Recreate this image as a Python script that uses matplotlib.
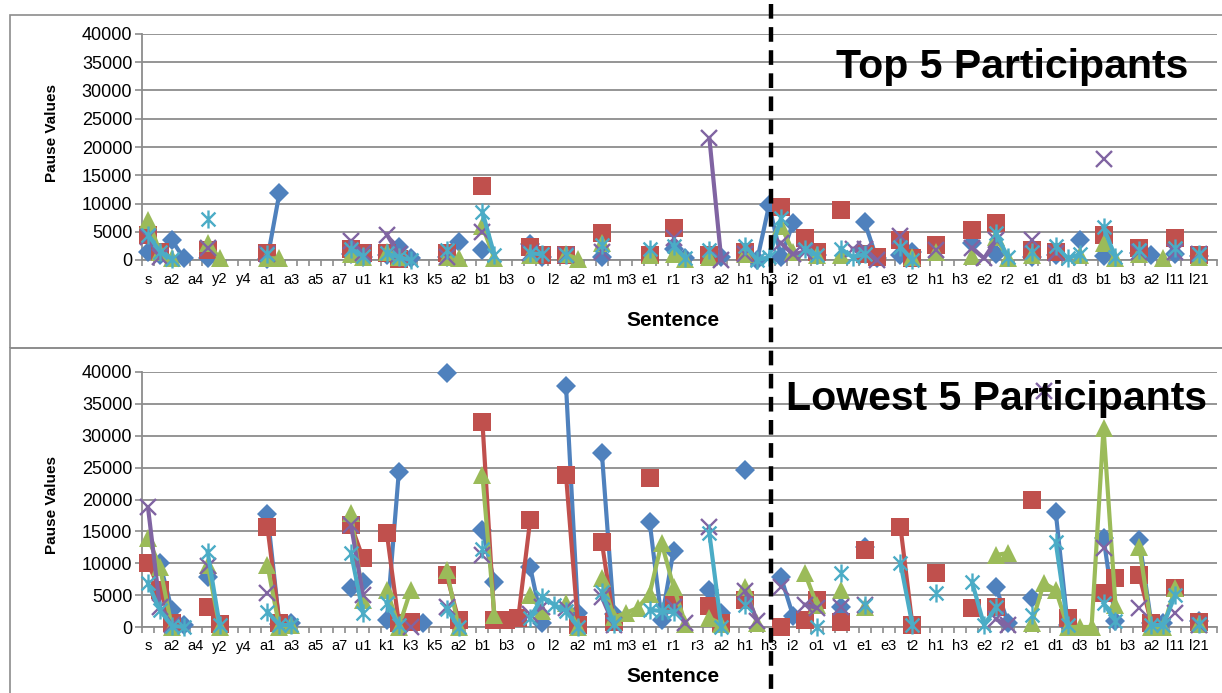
import numpy as np
import matplotlib
matplotlib.use('Agg')
import matplotlib.pyplot as plt
from matplotlib import font_manager
from matplotlib.path import Path
from matplotlib.lines import Line2D
from matplotlib.patches import Rectangle

n_cat = 90
labels = ['s', 'a2', 'a4', 'y2', 'y4', 'a1', 'a3', 'a5', 'a7', 'u1', 'k1', 'k3', 'k5',
          'a2', 'b1', 'b3', 'o', 'l2', 'a2', 'm1', 'm3', 'e1', 'r1', 'r3', 'a2', 'h1',
          'h3', 'i2', 'o1', 'v1', 'e1', 'e3', 't2', 'h1', 'h3', 'e2', 'r2', 'e1', 'd1',
          'd3', 'b1', 'b3', 'a2', 'l11', 'l21']
y_ticks = list(range(0, 40001, 5000))

# values, keyed by category index (missing = gap)
top_blue = {0: 1500, 1: 800, 2: 3500, 3: 300, 5: 300, 10: 200, 11: 11800, 17: 1000,
            18: 500, 20: 800, 21: 2300, 22: 300, 25: 500, 26: 3200, 28: 1800, 32: 2800,
            33: 500, 38: 500, 44: 2000, 45: 300, 48: 500, 51: 0, 52: 9700, 53: 500,
            54: 6500, 56: 800, 60: 6700, 61: 300, 63: 900, 64: 1500, 69: 3000, 71: 1000,
            74: 500, 76: 800, 78: 3500, 80: 700, 83: 1200, 84: 800, 86: 1000, 88: 700}
top_red = {0: 4400, 1: 1400, 5: 1800, 10: 1200, 17: 2000, 18: 1200, 20: 1200, 21: 200,
           25: 1200, 28: 13100, 32: 2300, 33: 900, 35: 900, 38: 4800, 42: 900, 44: 5600,
           47: 900, 50: 1400, 53: 9400, 55: 3900, 56: 1400, 58: 8800, 60: 1000, 61: 600,
           63: 3500, 64: 400, 66: 2700, 69: 5300, 71: 6500, 74: 1700, 76: 1400,
           80: 4400, 83: 2100, 86: 3900, 88: 900}
top_green = {0: 7000, 1: 1500, 2: 300, 5: 3000, 6: 300, 10: 300, 11: 300, 17: 1000,
             18: 500, 20: 1500, 21: 500, 25: 500, 26: 300, 28: 6000, 29: 300, 32: 800,
             35: 1000, 36: 200, 38: 3000, 42: 800, 44: 1000, 45: 100, 47: 500, 50: 1000,
             53: 6000, 54: 1500, 56: 800, 58: 800, 64: 500, 66: 1500, 69: 700, 71: 4000,
             72: 300, 74: 800, 78: 900, 80: 3000, 81: 400, 83: 1000, 85: 300, 88: 500}
top_purple = {0: 4000, 1: 500, 5: 2100, 10: 1000, 17: 3300, 18: 1200, 20: 4500, 21: 1000,
              25: 500, 28: 5000, 32: 1200, 35: 900, 38: 1500, 44: 3900, 47: 21600, 48: 0,
              50: 1000, 53: 3000, 54: 1000, 55: 1500, 59: 2000, 60: 2000, 61: 0,
              63: 4300, 66: 1800, 69: 2100, 70: 300, 71: 3500, 74: 3500, 76: 1200,
              80: 17900, 83: 1500, 86: 1500, 88: 1000}
top_cyan = {0: 4500, 1: 1500, 2: 200, 5: 7200, 10: 1000, 17: 2000, 18: 700, 20: 1200,
            21: 500, 22: 0, 25: 1800, 28: 8500, 29: 900, 32: 1200, 33: 1000, 35: 900,
            38: 2600, 42: 2000, 44: 2500, 45: 300, 47: 1800, 50: 2500, 51: 0, 52: 500,
            53: 7400, 55: 2000, 56: 800, 58: 2000, 59: 500, 60: 1000, 63: 2300, 64: 0,
            71: 4700, 72: 500, 74: 1500, 76: 2500, 77: 300, 78: 1000, 80: 5800, 81: 500,
            83: 1800, 86: 2200, 88: 1000}

low_blue = {1: 10000, 2: 2700, 3: 300, 5: 7800, 10: 17800, 11: 500, 12: 600, 17: 6100,
            18: 7000, 20: 1100, 21: 24300, 23: 600, 25: 39800, 28: 15200, 29: 7000,
            32: 9400, 33: 600, 35: 37800, 36: 2200, 38: 27300, 39: 2000, 42: 16500,
            43: 1100, 44: 12000, 47: 5800, 48: 2200, 50: 24600, 53: 7800, 54: 1800,
            58: 3100, 60: 12500, 71: 6300, 72: 600, 74: 4500, 76: 18000, 77: 300,
            80: 14000, 81: 1000, 83: 13600, 84: 600, 85: 600, 88: 1000}
low_red = {0: 10000, 1: 5800, 2: 600, 5: 3100, 6: 400, 10: 15700, 11: 700, 17: 16000,
           18: 10800, 20: 14700, 21: 600, 22: 800, 25: 8200, 26: 1100, 28: 32200,
           29: 1100, 30: 1100, 31: 1400, 32: 16800, 35: 23800, 36: 300, 38: 13300,
           39: 800, 42: 23300, 44: 3400, 47: 3300, 48: 600, 50: 4200, 53: 0, 55: 1100,
           56: 4200, 58: 800, 60: 12100, 63: 15700, 64: 300, 66: 8400, 69: 3000,
           71: 3100, 74: 20000, 77: 1400, 80: 5300, 81: 7700, 83: 8100, 84: 600,
           86: 6100, 88: 800}
low_green = {0: 14000, 1: 9400, 2: 0, 5: 9700, 6: 0, 10: 9700, 11: 0, 12: 300,
             17: 17900, 18: 4200, 20: 5800, 21: 0, 22: 5800, 25: 9000, 26: 0, 28: 23800,
             29: 1900, 32: 5000, 33: 2500, 35: 3700, 36: 0, 38: 7700, 39: 1500, 40: 2200,
             41: 3000, 42: 5200, 43: 13200, 44: 6300, 45: 500, 47: 1400, 48: 500,
             50: 6300, 51: 600, 55: 8400, 56: 3500, 58: 5800, 60: 3100, 71: 11300,
             72: 11600, 74: 600, 75: 6900, 76: 5800, 77: 0, 78: 0, 79: 0, 80: 31200,
             81: 3500, 83: 12500, 84: 0, 85: 0, 86: 6100, 88: 500}
low_purple = {0: 18800, 1: 3100, 2: 300, 5: 9600, 10: 5300, 17: 16000, 18: 5000, 22: 0,
              25: 3100, 28: 11300, 32: 2000, 33: 3100, 35: 3000, 38: 4700, 39: 300,
              44: 3100, 45: 600, 47: 15700, 50: 5600, 51: 1000, 53: 6300, 55: 3500,
              56: 3000, 58: 3100, 60: 3500, 71: 1200, 72: 300, 75: 37000, 80: 12400,
              83: 3000, 86: 2200, 88: 300}
low_cyan = {0: 6900, 1: 2600, 2: 200, 3: 0, 5: 11700, 6: 300, 10: 2400, 11: 300, 12: 300,
            17: 11600, 18: 2200, 20: 3700, 21: 300, 25: 2900, 26: 0, 28: 12300, 32: 1400,
            33: 4700, 34: 3500, 35: 2500, 36: 0, 38: 5500, 39: 500, 42: 2700, 43: 2500,
            44: 2300, 47: 14700, 48: 0, 50: 3500, 56: 0, 58: 8400, 60: 3500, 63: 10000,
            64: 300, 66: 5300, 69: 7000, 70: 300, 71: 3100, 74: 1900, 76: 13300, 77: 300,
            80: 3700, 81: 1000, 84: 300, 85: 300, 86: 5000, 88: 500}

top_series = [top_blue, top_red, top_green, top_purple, top_cyan]
low_series = [low_blue, low_red, low_green, low_purple, low_cyan]

# excel star marker: an x with a vertical bar
star = Path([(-1, -1), (1, 1), (-1, 1), (1, -1), (0, -1.3), (0, 1.3)],
            [Path.MOVETO, Path.LINETO, Path.MOVETO, Path.LINETO, Path.MOVETO, Path.LINETO])
styles = [
    dict(color='#4F81BD', marker='D', ms=10.5, mew=0),
    dict(color='#C0504D', marker='s', ms=12.5, mew=0),
    dict(color='#9BBB59', marker='^', ms=13.5, mew=0),
    dict(color='#8064A2', marker='x', ms=11, mew=1.7),
    dict(color='#4BACC6', marker=star, ms=13, mew=1.7),
]

names = {f.name for f in font_manager.fontManager.ttflist}
base_font = 'Liberation Sans' if 'Liberation Sans' in names else 'DejaVu Sans'
title_font = 'Liberation Sans Narrow' if 'Liberation Sans Narrow' in names else base_font
title_size = 33 if title_font != base_font else 29.5
plt.rcParams['font.family'] = base_font

grey = '#8c8c8c'
W, H = 1222, 693


def to_array(d):
    arr = np.full(n_cat, np.nan)
    for k, v in d.items():
        arr[k] = v
    return arr


def draw_panel(ax, series):
    x = np.arange(n_cat)
    for d, st in zip(series, styles):
        ax.plot(x, to_array(d), color=st['color'], lw=3, marker=st['marker'],
                ms=st['ms'], mew=st['mew'], mec=st['color'], mfc=st['color'],
                clip_on=False, zorder=3)
    ax.set_xlim(-0.5, n_cat - 0.5)
    ax.set_ylim(0, 40000)
    ax.set_yticks(y_ticks)
    ax.set_yticklabels([str(v) for v in y_ticks], fontsize=13)
    ax.set_xticks(np.arange(0, 2 * len(labels), 2))
    ax.set_xticklabels(labels, fontsize=10.5)
    ax.set_xticks(np.arange(-0.5, n_cat, 1), minor=True)
    ax.tick_params(axis='x', which='major', length=0, pad=9)
    ax.tick_params(axis='x', which='minor', length=4, color=grey, width=1.2)
    ax.tick_params(axis='y', length=5, color=grey, width=1.2, pad=2)
    ax.grid(axis='y', color=grey, lw=1.3)
    ax.set_axisbelow(True)
    for s in ['top', 'right']:
        ax.spines[s].set_visible(False)
    for s in ['left', 'bottom']:
        ax.spines[s].set_color(grey)
        ax.spines[s].set_linewidth(1.3)
        ax.spines[s].set_zorder(2)


fig = plt.figure(figsize=(W / 100, H / 100), dpi=100)

# panel frames
fig.add_artist(Rectangle((10 / W, 1 - 348 / H), 1.05, (348 - 15) / H, transform=fig.transFigure,
                         fill=False, edgecolor=grey, lw=1.2))
fig.add_artist(Rectangle((10 / W, -0.05), 1.05, 0.05 + 1 - 348 / H, transform=fig.transFigure,
                         fill=False, edgecolor=grey, lw=1.2))

left, right = 142 / W, 1217 / W
ax_top = fig.add_axes([left, 1 - 260 / H, right - left, (260 - 34) / H])
ax_low = fig.add_axes([left, 1 - 627 / H, right - left, (627 - 372) / H])
draw_panel(ax_top, top_series)
draw_panel(ax_low, low_series)

for yc in [133, 505]:
    fig.text(52 / W, 1 - yc / H, 'Pause Values', rotation=90, ha='center', va='center',
             fontsize=11, fontweight='bold')
for yc in [321, 677]:
    fig.text(673 / W, 1 - yc / H, 'Sentence', ha='center', va='center',
             fontsize=15, fontweight='bold')

fig.text(1188 / W, 1 - 78 / H, 'Top 5 Participants', ha='right', va='baseline',
         fontsize=title_size, fontweight='bold', family=title_font, zorder=5)
fig.text(1207 / W, 1 - 410 / H, 'Lowest 5 Participants', ha='right', va='baseline',
         fontsize=title_size, fontweight='bold', family=title_font, zorder=5)

# dashed divider across both panels
fig.add_artist(Line2D([771 / W, 771 / W], [1 - 4 / H, 0], transform=fig.transFigure,
                      color='black', lw=3.2, dashes=(3.3, 1.9), zorder=10))

fig.savefig('out.png', dpi=100)
